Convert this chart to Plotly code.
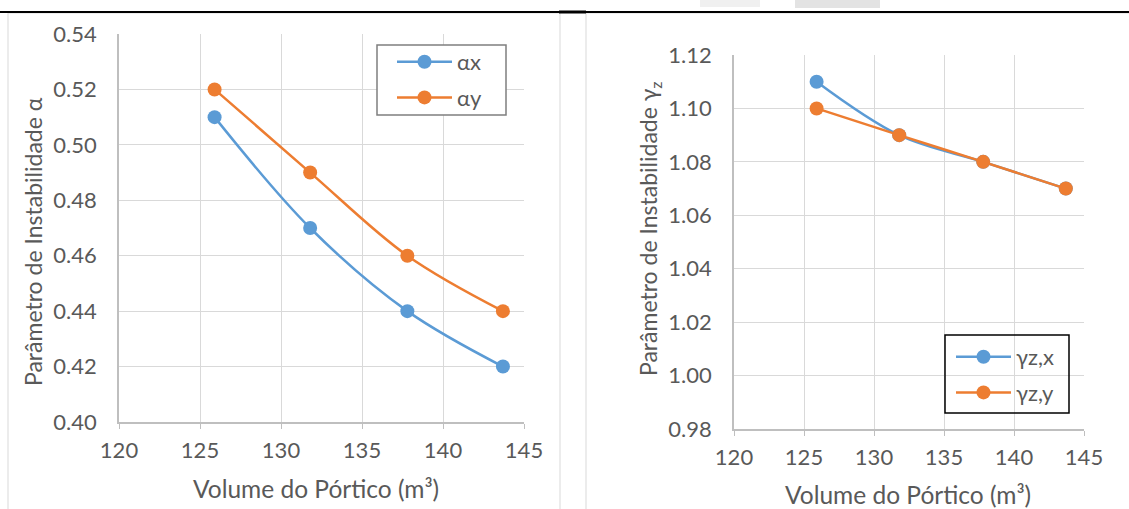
import plotly.graph_objects as go

W, H = 1129, 509

# Data
volume = [125.9, 131.8, 137.8, 143.7]
alpha_x = [0.51, 0.47, 0.44, 0.42]
alpha_y = [0.52, 0.49, 0.46, 0.44]
gamma_zx = [1.11, 1.09, 1.08, 1.07]
gamma_zy = [1.10, 1.09, 1.08, 1.07]

BLUE = "#5B9BD5"
ORANGE = "#ED7D31"
GRID = "#D9D9D9"
AXIS = "#BFBFBF"
TXT = "#595959"
FONT = "Lato"


def px(x):
    return x / W


def py(y):
    return 1 - y / H


fig = go.Figure()

def add(x, y, name, color, xa, ya, leg, grp):
    fig.add_trace(go.Scatter(
        x=x, y=y, name=name, mode="lines+markers",
        line=dict(color=color, width=2.5, shape="spline", smoothing=1),
        marker=dict(color=color, size=14),
        xaxis=xa, yaxis=ya, legend=leg, legendgroup=grp,
    ))

add(volume, alpha_x, "αx", BLUE, "x", "y", "legend", "a")
add(volume, alpha_y, "αy", ORANGE, "x", "y", "legend", "b")
add(volume, gamma_zx, "γz,x", BLUE, "x2", "y2", "legend2", "c")
add(volume, gamma_zy, "γz,y", ORANGE, "x2", "y2", "legend2", "d")

common_x = dict(range=[120, 145], dtick=5, showgrid=True, gridcolor=GRID, gridwidth=1,
                showline=True, linecolor=AXIS, linewidth=1.5, ticks="outside", ticklen=5,
                tickcolor=AXIS, tickfont=dict(size=22, color=TXT, family=FONT),
                zeroline=False, ticklabelstandoff=3, fixedrange=True, automargin=False)
common_y = dict(dtick=0.02, tickformat=".2f", showgrid=True, gridcolor=GRID, gridwidth=1,
                showline=True, linecolor=AXIS, linewidth=1.5, ticks="",
                tickfont=dict(size=22, color=TXT, family=FONT), zeroline=False,
                ticklabelstandoff=16, fixedrange=True, automargin=False)

legend_common = dict(xanchor="left", yanchor="top", borderwidth=0,
                     bgcolor="rgba(0,0,0,0)",
                     font=dict(size=22, color=TXT, family=FONT), itemwidth=55)

fig.update_layout(
    template="none",
    width=W, height=H, margin=dict(l=0, r=0, t=0, b=0, pad=0), autosize=False,
    paper_bgcolor="white", plot_bgcolor="white",
    font=dict(family=FONT, color=TXT),
    xaxis=dict(domain=[px(119), px(524)], anchor="y", **common_x),
    yaxis=dict(domain=[py(422), py(34)], anchor="x", range=[0.40, 0.54], **common_y),
    xaxis2=dict(domain=[px(734), px(1084)], anchor="y2", **common_x),
    yaxis2=dict(domain=[py(429), py(55)], anchor="x2", range=[0.98, 1.12], **common_y),
    legend=dict(x=px(392), y=py(41), tracegroupgap=4, **legend_common),
    legend2=dict(x=px(951), y=py(336), tracegroupgap=4, **legend_common),
    showlegend=True,
)

annos = [
    dict(text="Volume do Pórtico (m³)", x=px(316), y=py(488), size=24.5),
    dict(text="Volume do Pórtico (m³)", x=px(908), y=py(494), size=24.5),
    dict(text="Parâmetro de Instabilidade α", x=px(33), y=py(242), textangle=-90, size=23),
    dict(text="Parâmetro de Instabilidade γ<sub>z</sub>", x=px(649), y=py(229), textangle=-90, size=23),
]
for a in annos:
    size = a.pop("size")
    fig.add_annotation(xref="paper", yref="paper", showarrow=False,
                       xanchor="center", yanchor="middle",
                       font=dict(size=size, color=TXT, family=FONT), **a)

shapes = [
    dict(type="rect", x0=px(8), x1=px(560), y0=py(530), y1=py(13), line=dict(color=GRID, width=1), layer="below"),
    dict(type="rect", x0=px(586), x1=px(1140), y0=py(530), y1=py(13), line=dict(color=GRID, width=1), layer="below"),
    dict(type="line", x0=0, x1=1, y0=py(12), y1=py(12), line=dict(color="black", width=2), layer="below"),
    dict(type="line", x0=px(559), x1=px(586), y0=py(12), y1=py(12), line=dict(color="black", width=3), layer="below"),
    dict(type="rect", x0=px(700), x1=px(760), y0=py(7), y1=py(0), fillcolor="#F0F0F0", line=dict(width=0), layer="below"),
    dict(type="rect", x0=px(795), x1=px(880), y0=py(8), y1=py(0), fillcolor="#E3E3E3", line=dict(width=0), layer="below"),
    # legend frames
    dict(type="rect", x0=px(377), x1=px(506), y0=py(115), y1=py(45), fillcolor="white",
         line=dict(color="#7F7F7F", width=1.5), layer="above"),
    dict(type="rect", x0=px(945), x1=px(1069), y0=py(413), y1=py(335),
         line=dict(color="black", width=1.5), layer="above"),
]
for s in shapes:
    fig.add_shape(xref="paper", yref="paper", **s)

fig.write_html("out.html", config={"displayModeBar": False},
               post_script="document.body.style.margin='0';document.body.style.padding='0';")
